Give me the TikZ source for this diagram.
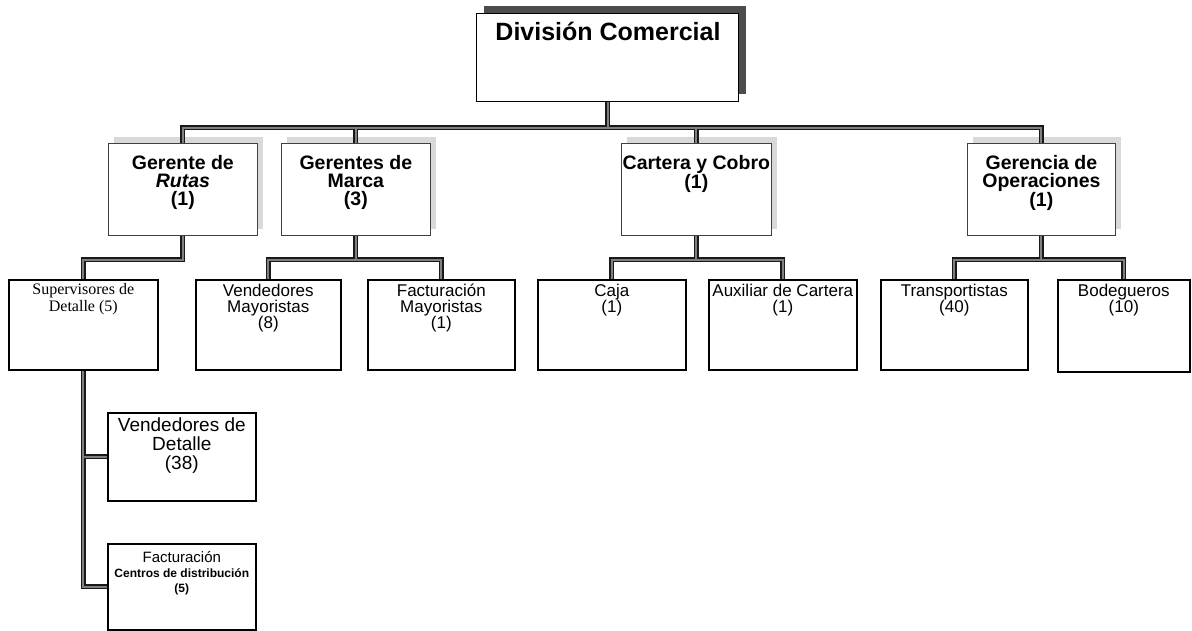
\documentclass[tikz,border=0pt]{standalone}
\usepackage{fontspec}
\setmainfont{Liberation Sans}
\newfontfamily\timesface{Liberation Serif}
\usetikzlibrary{shadows}

\tikzset{
  headbox/.style={draw=black, line width=1pt, fill=white, inner sep=0pt, anchor=north west,
    general shadow={shadow xshift=7pt, shadow yshift=7pt, fill=black!70}},
  mgrbox/.style={draw=black!75, line width=0.8pt, fill=white, inner sep=0pt, anchor=north west,
    general shadow={shadow xshift=6pt, shadow yshift=6pt, fill=black!15}},
  unitbox/.style={draw=black, line width=1.6pt, fill=white, inner sep=0pt, anchor=north west},
  boxtext/.style={anchor=north, inner sep=0pt, align=center},
  mgrtext/.style={boxtext, font=\fontsize{19.5}{18}\selectfont\bfseries},
  unittext/.style={boxtext, font=\fontsize{17}{16}\selectfont},
  barouter/.style={draw=black!90, line width=5pt},
  barinner/.style={draw=black!50, line width=2pt},
}

% all connectors, drawn once as outline and once as filling
\newcommand{\orgwires}[1]{%
  \draw[#1] (dc.south) -- (dc.south |- L1);
  \draw[#1] (rutas.north) |- (ops.north |- L1) -- (ops.north);
  \draw[#1] (marca.north) -- (marca.north |- L1);
  \draw[#1] (cartera.north) -- (cartera.north |- L1);
  \draw[#1] (rutas.south) |- (sup.north |- L2) -- (sup.north);
  \draw[#1] (marca.south) -- (marca.south |- L2);
  \draw[#1] (vmay.north) |- (fmay.north |- L2) -- (fmay.north);
  \draw[#1] (cartera.south) -- (cartera.south |- L2);
  \draw[#1] (caja.north) |- (aux.north |- L2) -- (aux.north);
  \draw[#1] (ops.south) -- (ops.south |- L2);
  \draw[#1] (trans.north) |- (bod.north |- L2) -- (bod.north);
  \draw[#1] (sup.south) |- (fcd.west);
  \draw[#1] (sup.south |- vdet.west) -- (vdet.west);
}

\begin{document}
\begin{tikzpicture}[x=1pt, y=-1pt]
\useasboundingbox (0,0) rectangle (1192,631);

\coordinate (L1) at (0,128);
\coordinate (L2) at (0,260);

% top box
\node[headbox, minimum width=262pt, minimum height=88pt] (dc) at (476,13) {};
\node[anchor=base, inner sep=0pt, font=\fontsize{25}{29}\selectfont\bfseries] (dc-t) at (608,41) {División Comercial};

% managers
\node[mgrbox, minimum width=149pt, minimum height=92pt] (rutas) at (108,143) {};
\node[mgrbox, minimum width=149pt, minimum height=92pt] (marca) at (281,143) {};
\node[mgrbox, minimum width=150pt, minimum height=92pt] (cartera) at (621,143) {};
\node[mgrbox, minimum width=148pt, minimum height=92pt] (ops) at (967,143) {};
\node[mgrtext] (rutas-t) at (rutas.north |- 0,155) {Gerente de\\\textit{Rutas}\\(1)};
\node[mgrtext] (marca-t) at (marca.north |- 0,155) {Gerentes de\\Marca\\(3)};
\node[mgrtext] (cartera-t) at (cartera.north |- 0,155) {Cartera y Cobro\\(1)};
\node[mgrtext] (ops-t) at (ops.north |- 0,155) {Gerencia de\\Operaciones\\(1)};

% units
\node[unitbox, minimum width=149pt, minimum height=90pt] (sup) at (8,279) {};
\node[unitbox, minimum width=145pt, minimum height=90pt] (vmay) at (195,279) {};
\node[unitbox, minimum width=147pt, minimum height=90pt] (fmay) at (367,279) {};
\node[unitbox, minimum width=148pt, minimum height=90pt] (caja) at (537,279) {};
\node[unitbox, minimum width=148pt, minimum height=90pt] (aux) at (708,279) {};
\node[unitbox, minimum width=147pt, minimum height=90pt] (trans) at (880,279) {};
\node[unitbox, minimum width=132pt, minimum height=92pt] (bod) at (1057,279) {};

\node[boxtext, font=\timesface\fontsize{16}{17}\selectfont] (sup-t) at (sup.north |- 0,283) {Supervisores de\\Detalle (5)};
\node[unittext] (vmay-t) at (vmay.north |- 0,284) {Vendedores\\Mayoristas\\(8)};
\node[unittext] (fmay-t) at (fmay.north |- 0,284) {Facturación\\Mayoristas\\(1)};
\node[unittext] (caja-t) at (caja.north |- 0,284) {Caja\\(1)};
\node[unittext] (aux-t) at (aux.north |- 0,284) {Auxiliar de Cartera\\(1)};
\node[unittext] (trans-t) at (trans.north |- 0,284) {Transportistas\\(40)};
\node[unittext] (bod-t) at (bod.north |- 0,284) {Bodegueros\\(10)};

% units under the route supervisors
\node[unitbox, minimum width=148pt, minimum height=88pt] (vdet) at (107,412) {};
\node[unitbox, minimum width=148pt, minimum height=86pt] (fcd) at (107,543) {};
\node[boxtext, font=\fontsize{19}{19}\selectfont] (vdet-t) at (vdet.north |- 0,418) {Vendedores de\\Detalle\\(38)};
\node[boxtext, font=\fontsize{12}{15}\selectfont\bfseries] (fcd-t) at (fcd.north |- 0,551) {{\mdseries\fontsize{15}{15}\selectfont Facturación}\\Centros de distribución\\(5)};

\orgwires{barouter}
\orgwires{barinner}
\end{tikzpicture}
\end{document}
